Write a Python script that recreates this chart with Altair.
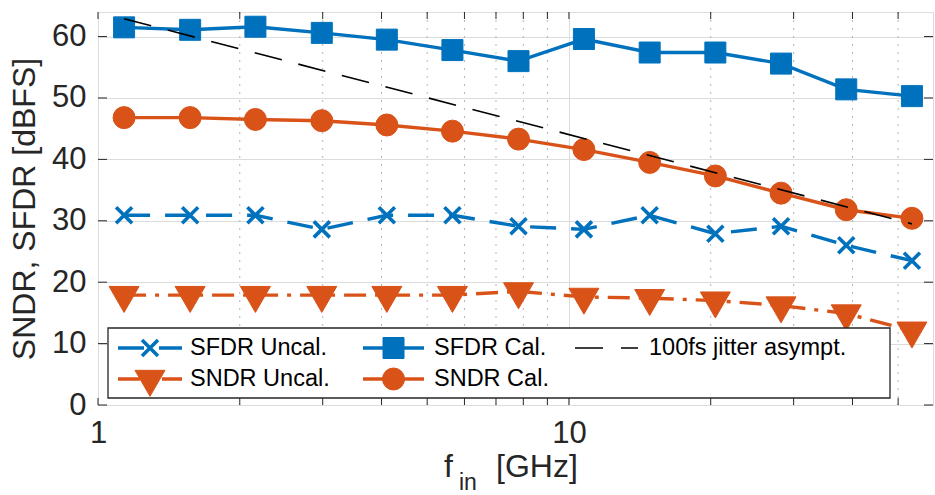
import altair as alt
import pandas as pd

# ---------------- data ----------------
freq_ghz   = [1.136, 1.569, 2.159, 2.987, 4.105, 5.657, 7.815, 10.76, 14.84, 20.46, 28.21, 38.8, 53.5]
sfdr_uncal = [30.9, 30.9, 30.9, 28.6, 30.9, 30.9, 29.1, 28.6, 30.9, 27.9, 29.1, 26.0, 23.5]
sndr_uncal = [17.9, 17.9, 17.9, 17.9, 17.9, 17.9, 18.5, 17.6, 17.4, 17.0, 16.2, 14.9, 12.1]
sfdr_cal   = [61.5, 61.1, 61.6, 60.6, 59.5, 57.8, 56.0, 59.6, 57.4, 57.4, 55.6, 51.4, 50.3]
sndr_cal   = [46.8, 46.8, 46.5, 46.3, 45.6, 44.6, 43.3, 41.6, 39.5, 37.3, 34.5, 31.8, 30.4]
jitter_f   = [1.136, 53.5]
jitter_db  = [62.9, 29.5]
series_names = ["SFDR Uncal.", "SNDR Uncal.", "SFDR Cal.", "SNDR Cal.", "100fs jitter asympt."]
x_major = [1, 10]
x_minor = [2, 3, 4, 5, 6, 7, 8, 9, 20, 30, 40, 50]
x_ticks = x_major + x_minor
y_ticks = [0, 10, 20, 30, 40, 50, 60]
x_domain = [1, 59.3]
y_domain = [0, 64]
x_title = ["f", "in", "[GHz]"]
y_title = "SNDR, SFDR [dBFS]"

# ---------------- styling ----------------
W, H = 835, 393
BLUE = "#0072BD"
ORANGE = "#D95319"
AX = "#262626"
FONT = "Liberation Sans"
X_PATH = "M-1,-1L1,1M-1,1L1,-1"
TRI_DOWN = "M-1,-0.577L1,-0.577L0,1.155Z"
LW = 3.4

xs = alt.Scale(type="log", domain=x_domain, nice=False)
ys = alt.Scale(domain=y_domain, nice=False, zero=False)
xaxis = alt.Axis(values=x_major, format="d", labelFontSize=31, labelColor=AX, labelFont=FONT,
                 labelPadding=13, ticks=False, tickSize=0, domain=False, grid=True,
                 gridColor="#dcdcdc", gridWidth=1, title=None, labelFlush=False,
                 labelOverlap=False)
yaxis = alt.Axis(values=y_ticks, labelFontSize=31, labelColor=AX, labelFont=FONT,
                 labelPadding=12, ticks=False, tickSize=0, domain=False, grid=True,
                 gridColor="#dcdcdc", gridWidth=1, title=None, labelOverlap=False)


def X(field):
    return alt.X(f"{field}:Q", scale=xs, axis=xaxis)


def Y(field):
    return alt.Y(f"{field}:Q", scale=ys, axis=yaxis)


one = pd.DataFrame({"a": [0]})
layers = []

# minor dotted grid
layers.append(alt.Chart(pd.DataFrame({"t": x_minor})).mark_rule(
    color="#b5b5b5", strokeDash=[2, 6], strokeWidth=1).encode(x=X("t")))

# series
styles = {
    "SFDR Uncal.": dict(vals=sfdr_uncal, color=BLUE, dash=[26, 15], shape=X_PATH, size=256, filled=False, sw=3.6),
    "SNDR Uncal.": dict(vals=sndr_uncal, color=ORANGE, dash=[22, 9, 4, 9], shape=TRI_DOWN, size=900, filled=True, sw=1),
    "SFDR Cal.": dict(vals=sfdr_cal, color=BLUE, dash=None, shape="square", size=441, filled=True, sw=1),
    "SNDR Cal.": dict(vals=sndr_cal, color=ORANGE, dash=None, shape="circle", size=484, filled=True, sw=1),
}


def line_kw(s):
    kw = dict(color=s["color"], strokeWidth=LW)
    if s["dash"]:
        kw["strokeDash"] = s["dash"]
    return kw


def point_kw(s):
    kw = dict(shape=s["shape"], size=s["size"], filled=s["filled"], color=s["color"],
              stroke=s["color"], strokeWidth=s["sw"], opacity=1)
    if s["filled"]:
        kw["fill"] = s["color"]
    return kw


for name in series_names[:4]:
    s = styles[name]
    df = pd.DataFrame({"f": freq_ghz, "v": s["vals"], "series": name})
    layers.append(alt.Chart(df).mark_line(**line_kw(s)).encode(x=X("f"), y=Y("v")))
    layers.append(alt.Chart(df).mark_point(**point_kw(s)).encode(x=X("f"), y=Y("v")))

# jitter asymptote
jdf = pd.DataFrame({"f": jitter_f, "v": jitter_db})
layers.append(alt.Chart(jdf).mark_line(color="black", strokeWidth=1.6, strokeDash=[28, 17]).encode(
    x=X("f"), y=Y("v")))

# inward ticks on all four sides
xt = pd.DataFrame({"t": x_ticks})
yt = pd.DataFrame({"t": y_ticks})
layers.append(alt.Chart(xt).mark_rule(color=AX, strokeWidth=1).encode(
    x=X("t"), y=alt.value(H), y2=alt.value(H - 7)))
layers.append(alt.Chart(xt).mark_rule(color=AX, strokeWidth=1).encode(
    x=X("t"), y=alt.value(0), y2=alt.value(7)))
layers.append(alt.Chart(yt).mark_rule(color=AX, strokeWidth=1).encode(
    y=Y("t"), x=alt.value(0), x2=alt.value(9)))
layers.append(alt.Chart(yt).mark_rule(color=AX, strokeWidth=1).encode(
    y=Y("t"), x=alt.value(W), x2=alt.value(W - 9)))

# legend
layers.append(alt.Chart(one).mark_rect(fill="white", stroke=AX, strokeWidth=1.3).encode(
    x=alt.value(10), x2=alt.value(792), y=alt.value(316), y2=alt.value(386)))
col_line = [(20, 84), (265, 326), (479, 540)]
col_text = [92, 336, 551]
row_y = [336, 367]
for i, name in enumerate(series_names):
    col, row = i // 2, i % 2
    x0, x1 = col_line[col]
    yy = row_y[row]
    if name in styles:
        s = styles[name]
        layers.append(alt.Chart(one).mark_rule(**line_kw(s)).encode(
            x=alt.value(x0), x2=alt.value(x1), y=alt.value(yy)))
        layers.append(alt.Chart(one).mark_point(**point_kw(s)).encode(
            x=alt.value((x0 + x1) / 2), y=alt.value(yy)))
    else:
        layers.append(alt.Chart(one).mark_rule(color="black", strokeWidth=1.6, strokeDash=[28, 18]).encode(
            x=alt.value(x0 - 2), x2=alt.value(x1), y=alt.value(yy)))
    layers.append(alt.Chart(one).mark_text(
        text=name, align="left", baseline="middle", fontSize=23.5, font=FONT, color="black").encode(
        x=alt.value(col_text[col]), y=alt.value(yy)))

# axis titles
layers.append(alt.Chart(one).mark_text(
    text=x_title[0], align="left", baseline="alphabetic", fontSize=32, font=FONT, color=AX).encode(
    x=alt.value(346), y=alt.value(465)))
layers.append(alt.Chart(one).mark_text(
    text=x_title[1], align="left", baseline="alphabetic", fontSize=23, font=FONT, color=AX).encode(
    x=alt.value(361), y=alt.value(478)))
layers.append(alt.Chart(one).mark_text(
    text=x_title[2], align="left", baseline="alphabetic", fontSize=32, font=FONT, color=AX).encode(
    x=alt.value(398), y=alt.value(465)))
layers.append(alt.Chart(one).mark_text(
    text=y_title, align="center", baseline="middle", angle=270, fontSize=32, font=FONT, color=AX).encode(
    x=alt.value(-73), y=alt.value(197)))

chart = alt.layer(*layers).properties(
    width=W, height=H,
    padding={"left": 98, "top": 12, "right": 2, "bottom": 90},
    autosize="none",
).configure_view(stroke=AX, strokeWidth=1.3).configure(font=FONT, background="white")

chart.save("out.html", embed_options={"renderer": "svg", "actions": False})
